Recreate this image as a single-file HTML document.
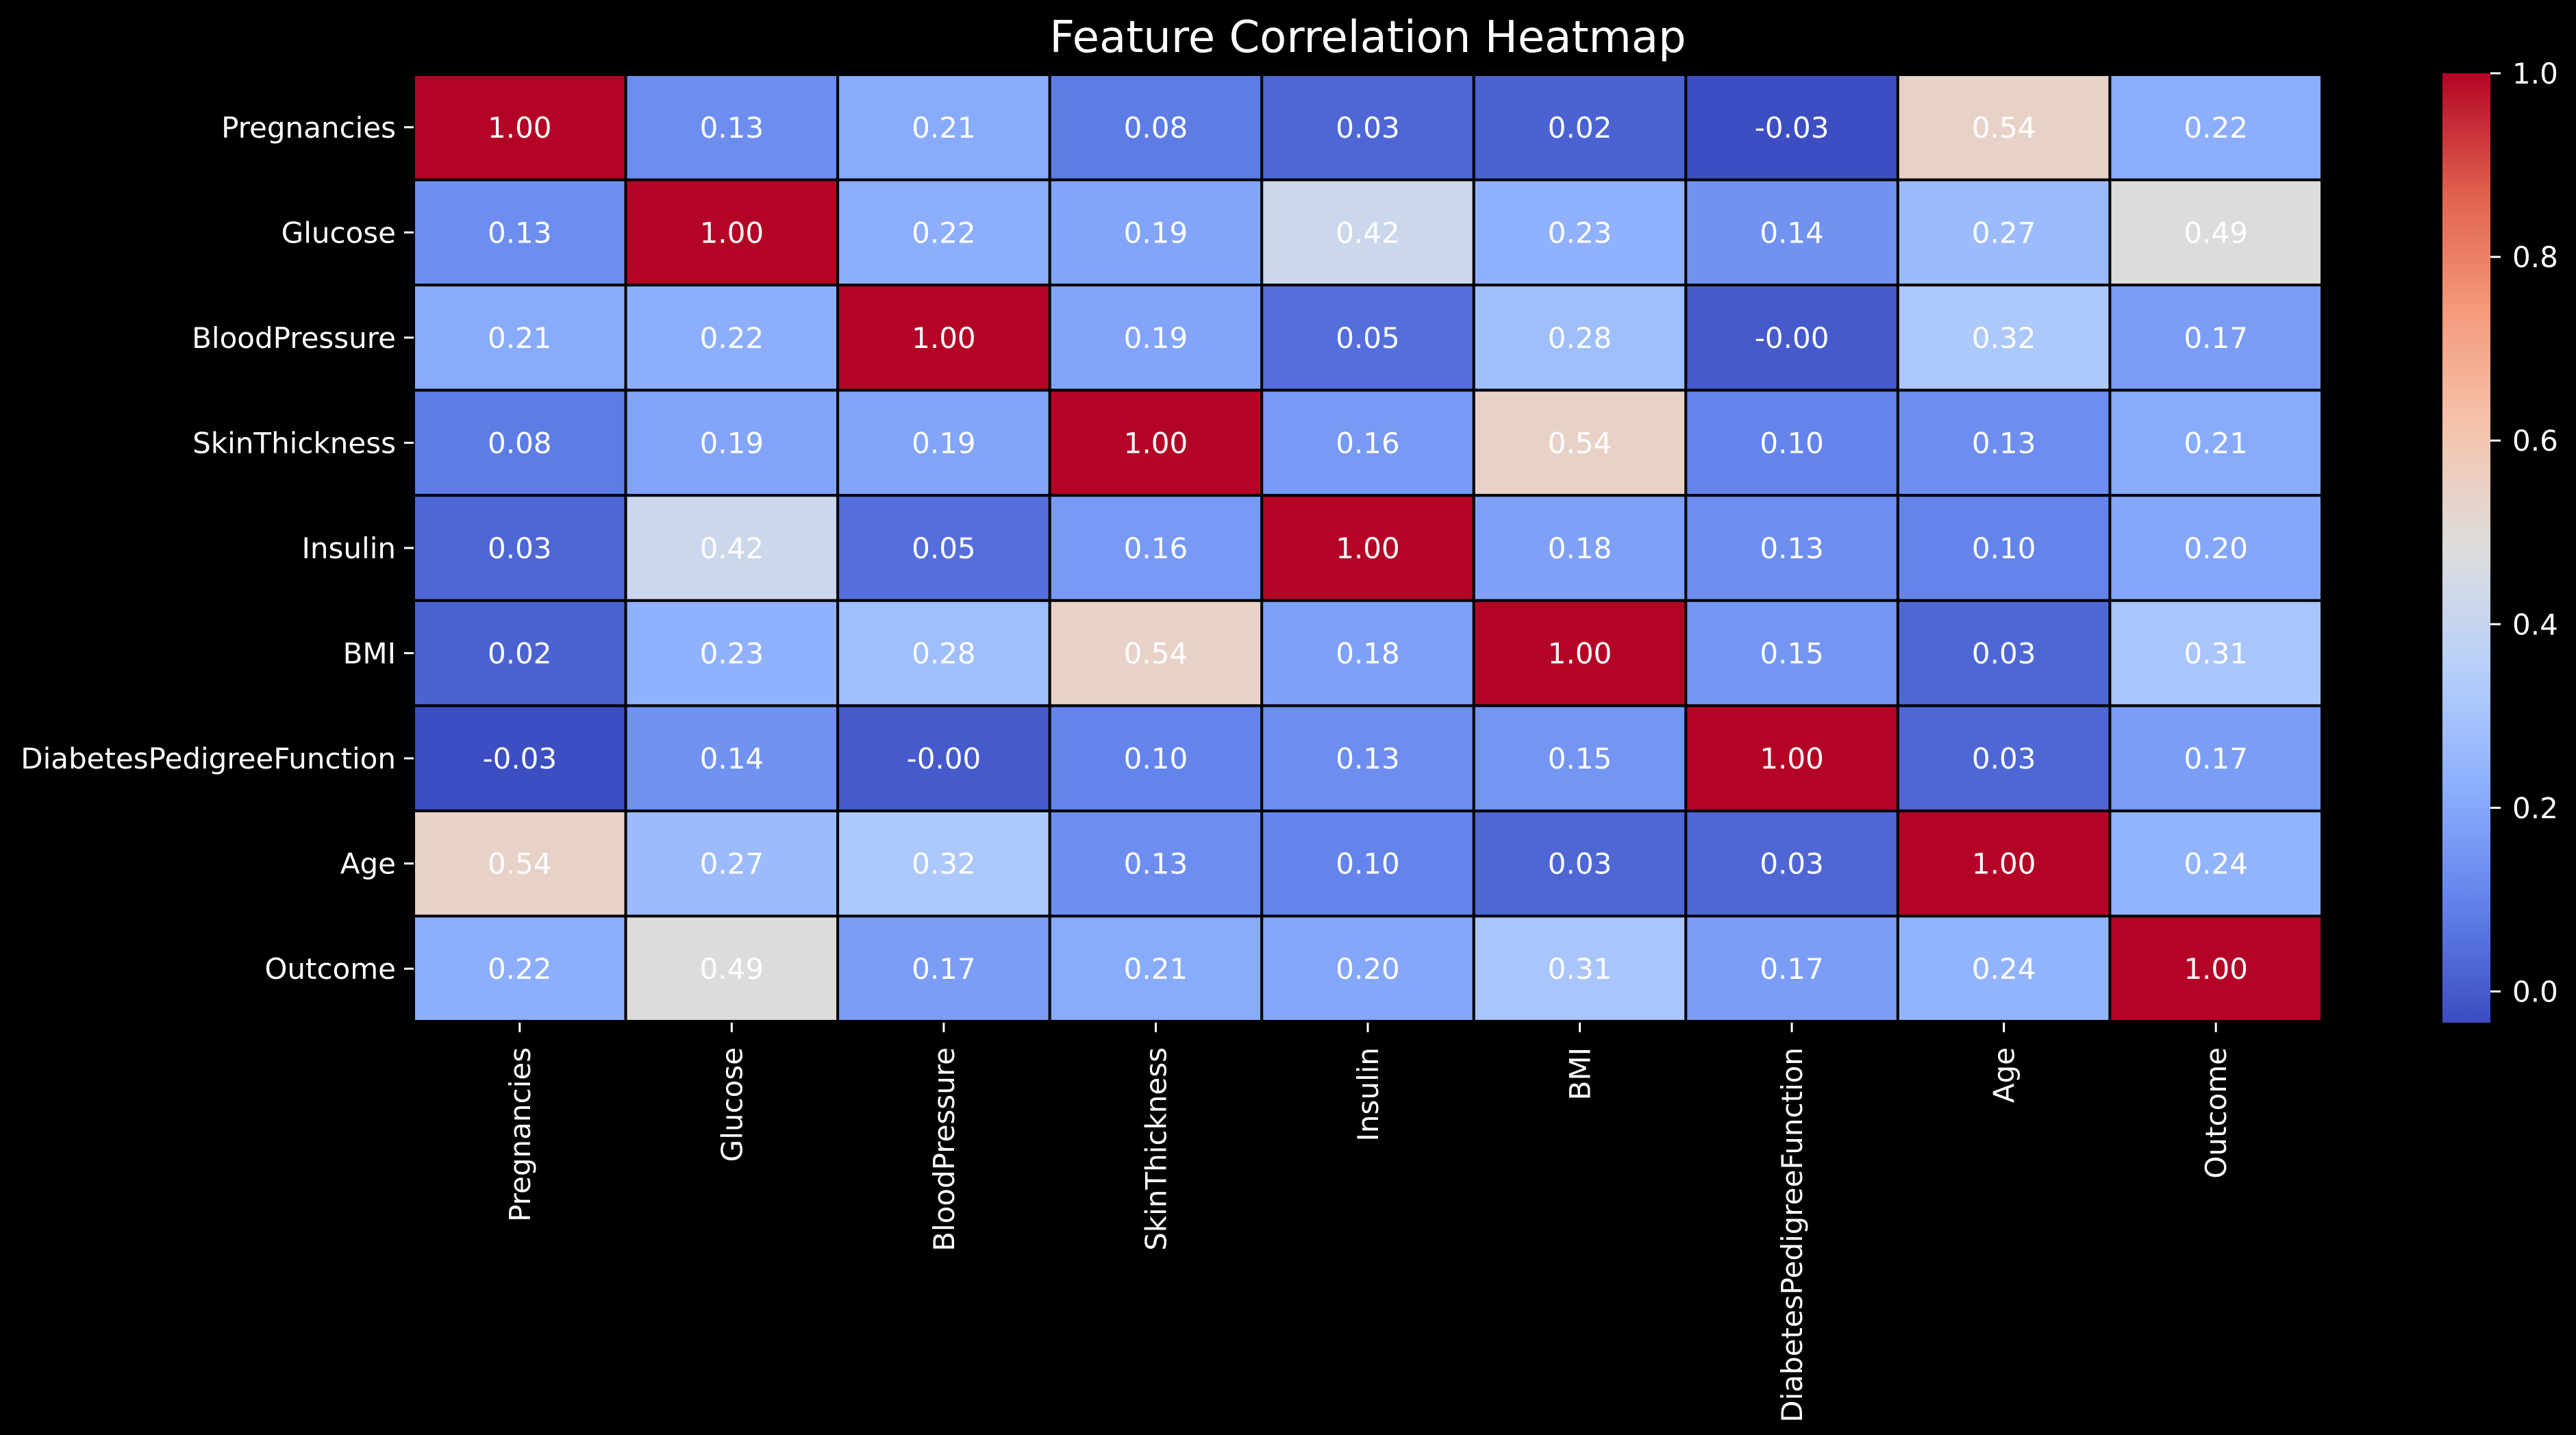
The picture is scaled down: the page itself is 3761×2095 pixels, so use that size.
<!DOCTYPE html>
<html><head><meta charset="utf-8"><style>
html,body{margin:0;padding:0;background:#000;}
svg{display:block;}
text{font-family:"DejaVu Sans","Liberation Sans",sans-serif;fill:#fff;}
</style></head><body>
<svg id="chart" width="3761" height="2095" viewBox="0 0 3761 2095" xmlns="http://www.w3.org/2000/svg">
<rect width="3761" height="2095" fill="#000"/>
<text x="1997" y="76" font-size="64" text-anchor="middle">Feature Correlation Heatmap</text>
<defs><linearGradient id="cbg" x1="0" y1="1" x2="0" y2="0"></linearGradient></defs>
<g id="cells"></g>
<g id="ylabels"></g>
<g id="xlabels"></g>
<rect id="cbar" x="3566" y="107" width="70" height="1386" fill="url(#cbg)"/>
<g id="cticks"></g>
</svg>
<script>
const labels = ["Pregnancies","Glucose","BloodPressure","SkinThickness","Insulin","BMI","DiabetesPedigreeFunction","Age","Outcome"];
const row0 = [1.00,0.13,0.21,0.08,0.03,0.02,-0.03,0.54,0.22];
const row1 = [0.13,1.00,0.22,0.19,0.42,0.23,0.14,0.27,0.49];
const row2 = [0.21,0.22,1.00,0.19,0.05,0.28,-0.00,0.32,0.17];
const row3 = [0.08,0.19,0.19,1.00,0.16,0.54,0.10,0.13,0.21];
const row4 = [0.03,0.42,0.05,0.16,1.00,0.18,0.13,0.10,0.20];
const row5 = [0.02,0.23,0.28,0.54,0.18,1.00,0.15,0.03,0.31];
const row6 = [-0.03,0.14,-0.00,0.10,0.13,0.15,1.00,0.03,0.17];
const row7 = [0.54,0.27,0.32,0.13,0.10,0.03,0.03,1.00,0.24];
const row8 = [0.22,0.49,0.17,0.21,0.20,0.31,0.17,0.24,1.00];
const matrix = [row0,row1,row2,row3,row4,row5,row6,row7,row8];
const cbarTicks = [0.0,0.2,0.4,0.6,0.8,1.0];
const vmin = -0.034, vmax = 1.0;

const NS="http://www.w3.org/2000/svg";
const L=604,R=3390,T=109,B=1491;
const n=labels.length, cw=(R-L)/n, ch=(B-T)/n;
const xs=i=>L+i*cw, ys=j=>T+j*ch;
const cbTop=107, cbBot=1493;
const cy=v=>cbBot-(v-vmin)/(vmax-vmin)*(cbBot-cbTop);
const cm=[[59,76,192],[98,130,234],[141,176,254],[184,208,249],[221,221,221],[245,196,173],[244,154,123],[222,96,77],[180,4,38]];
function color(v){let t=(v-vmin)/(vmax-vmin);t=Math.max(0,Math.min(1,t));const p=t*8,i=Math.min(7,Math.floor(p)),f=p-i;
const c=cm[i].map((a,k)=>Math.round(a+(cm[i+1][k]-a)*f));return `rgb(${c[0]},${c[1]},${c[2]})`;}
function mk(tag,attrs,parent){const e=document.createElementNS(NS,tag);for(const k in attrs)e.setAttribute(k,attrs[k]);parent.appendChild(e);return e;}
const gc=document.getElementById('cells');
matrix.forEach((row,j)=>row.forEach((v,i)=>{
  const r=mk('rect',{x:xs(i),y:ys(j),width:cw,height:ch,fill:color(v),stroke:'#000','stroke-width':4},gc);
  
  
  const t=mk('text',{x:xs(i)+cw/2,y:ys(j)+ch/2+15,'font-size':42,'text-anchor':'middle'},gc);
  t.textContent=(v<0||Object.is(v,-0)?'-':'')+Math.abs(v).toFixed(2);
  
  
}));
const gy=document.getElementById('ylabels'), gx=document.getElementById('xlabels');
labels.forEach((lab,k)=>{
  const yc=ys(k)+ch/2;
  mk('line',{x1:L-14,x2:L,y1:yc,y2:yc,stroke:'#fff','stroke-width':3},gy);
  const t=mk('text',{x:L-26,y:yc+15,'font-size':42,'text-anchor':'end'},gy);
  t.textContent=lab;
  
  
  const xc=xs(k)+cw/2;
  mk('line',{x1:xc,x2:xc,y1:B+2,y2:B+16,stroke:'#fff','stroke-width':3},gx);
  const u=mk('text',{x:0,y:0,'font-size':42,'text-anchor':'end',transform:`translate(${xc+15},${B+38}) rotate(-90)`},gx);
  u.textContent=lab;
  
  
});
const grad=document.getElementById('cbg');
for(let s=0;s<=32;s++){const v=vmin+(vmax-vmin)*s/32;mk('stop',{offset:(s/32),'stop-color':color(v)},grad);}
const gt=document.getElementById('cticks');
cbarTicks.forEach(v=>{const y=cy(v);
  mk('line',{x1:3636,x2:3651,y1:y,y2:y,stroke:'#fff','stroke-width':3},gt);
  const t=mk('text',{x:3668,y:y+15,'font-size':42},gt);
  t.textContent=v.toFixed(1);
  
  
});
</script>
</body></html>
